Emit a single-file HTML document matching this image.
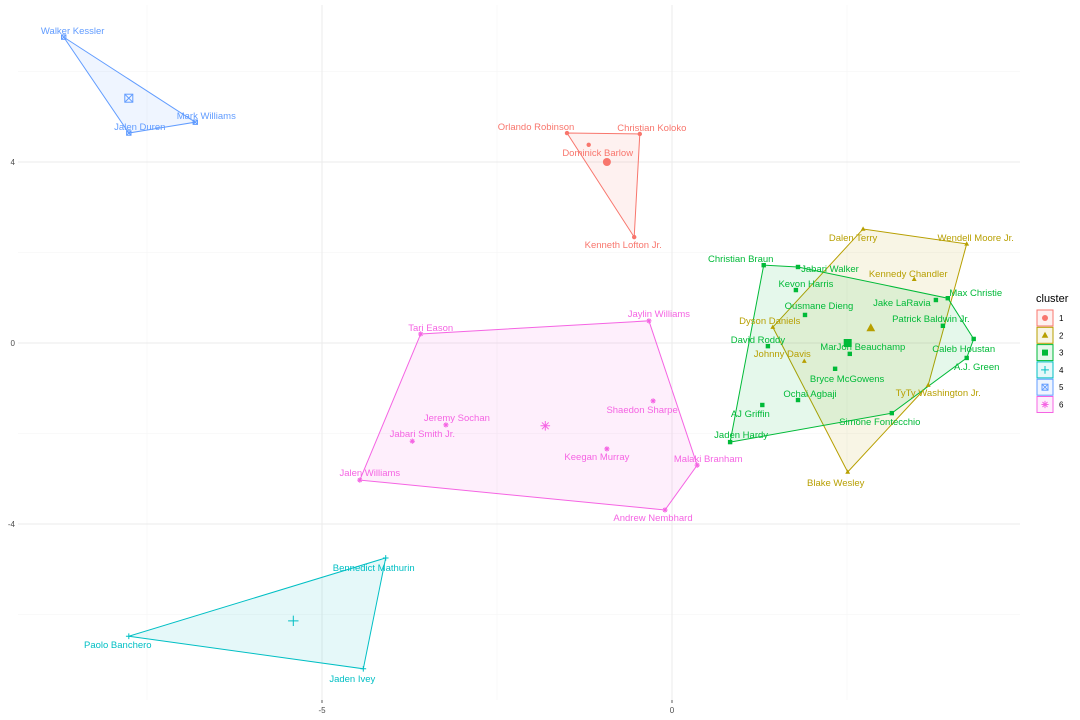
<!DOCTYPE html>
<html><head><meta charset="utf-8">
<style>
html,body{margin:0;padding:0;background:#fff;}
svg{display:block;font-family:"Liberation Sans",sans-serif;}
</style></head>
<body>
<svg id="chart" width="1080" height="720" viewBox="0 0 1080 720" xmlns="http://www.w3.org/2000/svg"></svg>
<script>
const clusterIds=[1,2,3,4,5,6];
const clusterColors=["#F8766D","#B79F00","#00BA38","#00BFC4","#619CFF","#F564E3"];
const names1=["Orlando Robinson","Christian Koloko","Dominick Barlow","Kenneth Lofton Jr."];
const xs1=[-1.50,-0.46,-1.19,-0.54];
const ys1=[4.64,4.62,4.38,2.34];
const names2=["Dalen Terry","Wendell Moore Jr.","Kennedy Chandler","Dyson Daniels","Johnny Davis","TyTy Washington Jr.","Blake Wesley"];
const xs2=[2.73,4.21,3.46,1.44,1.89,3.66,2.51];
const ys2=[2.52,2.19,1.41,0.35,-0.40,-0.93,-2.85];
const names3=["Christian Braun","Jabari Walker","Kevon Harris","Ousmane Dieng","Jake LaRavia","Max Christie","Patrick Baldwin Jr.","David Roddy","MarJon Beauchamp","Caleb Houstan","A.J. Green","Bryce McGowens","Ochai Agbaji","AJ Griffin","Simone Fontecchio","Jaden Hardy"];
const xs3=[1.31,1.80,1.77,1.90,3.77,3.94,3.87,1.37,2.54,4.31,4.21,2.33,1.80,1.29,3.14,0.83];
const ys3=[1.72,1.68,1.17,0.62,0.95,0.99,0.38,-0.07,-0.24,0.09,-0.33,-0.57,-1.26,-1.37,-1.55,-2.19];
const names4=["Bennedict Mathurin","Paolo Banchero","Jaden Ivey"];
const xs4=[-4.09,-7.76,-4.41];
const ys4=[-4.75,-6.48,-7.20];
const names5=["Walker Kessler","Mark Williams","Jalen Duren"];
const xs5=[-8.69,-6.81,-7.76];
const ys5=[6.76,4.88,4.64];
const names6=["Tari Eason","Jaylin Williams","Jeremy Sochan","Jabari Smith Jr.","Shaedon Sharpe","Keegan Murray","Malaki Branham","Jalen Williams","Andrew Nembhard"];
const xs6=[-3.59,-0.33,-3.23,-3.71,-0.27,-0.93,0.36,-4.46,-0.10];
const ys6=[0.20,0.49,-1.81,-2.17,-1.28,-2.34,-2.70,-3.03,-3.69];
const centerX=[-0.93,2.84,2.51,-5.41,-7.76,-1.81];
const centerY=[4.00,0.33,0.00,-6.14,5.41,-1.83];
const xTicks=[-5,0];
const yTicks=[4,0,-4];
const xMinor=[-7.5,-2.5,2.5];
const yMinor=[6,2,-2,-6];
const lab1=[[-31,-6],[12,-6],[9,8],[-11,8]];
const lab2=[[-10,9],[9,-6],[-6,-5],[-3,-6],[-22,-7],[10,8],[-12,11]];
const lab3=[[-23,-6],[32,2],[10,-6],[14,-9],[-34,3],[28,-5],[-12,-7],[-10,-6],[13,-7],[-10,10],[10,9],[12,10],[12,-6],[-12,9],[-12,9],[11,-7]];
const lab4=[[-12,10],[-11,9],[-11,10]];
const lab5=[[9,-6],[11,-6],[11,-6]];
const lab6=[[10,-6],[10,-7],[11,-7],[10,-7],[-11,9],[-10,8],[11,-6],[10,-7],[-12,8]];

const P={l:18,r:1020,t:5,b:700};
const X=v=>672+v*70;
const Y=v=>343-v*45.25;
const NS="http://www.w3.org/2000/svg";
const svg=document.getElementById('chart');
function mk(tag,attrs,parent){const e=document.createElementNS(NS,tag);for(const k in attrs)e.setAttribute(k,attrs[k]);(parent||svg).appendChild(e);return e;}

const grid=mk('g',{});


xMinor.forEach(v=>mk('line',{x1:X(v),x2:X(v),y1:P.t,y2:P.b,stroke:'#f3f3f3','stroke-width':0.6},grid));
yMinor.forEach(v=>mk('line',{x1:P.l,x2:P.r,y1:Y(v),y2:Y(v),stroke:'#f3f3f3','stroke-width':0.6},grid));
xTicks.forEach(v=>mk('line',{x1:X(v),x2:X(v),y1:P.t,y2:P.b,stroke:'#ebebeb','stroke-width':1},grid));
yTicks.forEach(v=>mk('line',{x1:P.l,x2:P.r,y1:Y(v),y2:Y(v),stroke:'#ebebeb','stroke-width':1},grid));

const axes=mk('g',{});


xTicks.forEach(v=>{mk('line',{x1:X(v),x2:X(v),y1:P.b,y2:P.b+3,stroke:'#333','stroke-width':0.8},axes);
 const t=mk('text',{x:X(v),y:P.b+13,'text-anchor':'middle','font-size':8,fill:'#4d4d4d'},axes);t.textContent=v;
 });
yTicks.forEach(v=>{const t=mk('text',{x:P.l-3,y:Y(v)+3,'text-anchor':'end','font-size':8,fill:'#4d4d4d'},axes);t.textContent=v;
 });

function hull(pts){pts=pts.slice().sort((a,b)=>a[0]-b[0]||a[1]-b[1]);
 const cr=(o,a,b)=>(a[0]-o[0])*(b[1]-o[1])-(a[1]-o[1])*(b[0]-o[0]);
 const lo=[],up=[];for(const p of pts){while(lo.length>=2&&cr(lo[lo.length-2],lo[lo.length-1],p)<=0)lo.pop();lo.push(p);}
 for(let i=pts.length-1;i>=0;i--){const p=pts[i];while(up.length>=2&&cr(up[up.length-2],up[up.length-1],p)<=0)up.pop();up.push(p);}
 up.pop();lo.pop();return lo.concat(up);}

function shape(g,k,cx,cy,s,col){
 if(k===0)mk('circle',{cx,cy,r:s,fill:col},g);
 else if(k===1)mk('polygon',{points:`${cx},${cy-s*1.2} ${cx-s*1.1},${cy+s*0.8} ${cx+s*1.1},${cy+s*0.8}`,fill:col},g);
 else if(k===2)mk('rect',{x:cx-s,y:cy-s,width:2*s,height:2*s,fill:col},g);
 else if(k===3){mk('path',{d:`M${cx-s*1.3},${cy}H${cx+s*1.3}M${cx},${cy-s*1.3}V${cy+s*1.3}`,stroke:col,'stroke-width':1,fill:'none'},g);}
 else if(k===4){mk('rect',{x:cx-s,y:cy-s,width:2*s,height:2*s,fill:'none',stroke:col,'stroke-width':1},g);
  mk('path',{d:`M${cx-s},${cy-s}L${cx+s},${cy+s}M${cx-s},${cy+s}L${cx+s},${cy-s}`,stroke:col,'stroke-width':1},g);}
 else {const r=s*1.2;mk('path',{d:`M${cx-r},${cy}H${cx+r}M${cx},${cy-r}V${cy+r}M${cx-r*.7},${cy-r*.7}L${cx+r*.7},${cy+r*.7}M${cx-r*.7},${cy+r*.7}L${cx+r*.7},${cy-r*.7}`,stroke:col,'stroke-width':1},g);}
}

const groups=[[names1,xs1,ys1,lab1],[names2,xs2,ys2,lab2],[names3,xs3,ys3,lab3],[names4,xs4,ys4,lab4],[names5,xs5,ys5,lab5],[names6,xs6,ys6,lab6]];
const hullLayer=mk('g',{});
const ptLayer=mk('g',{});
groups.forEach((gr,k)=>{
 const col=clusterColors[k];
 const pts=gr[1].map((v,i)=>[X(v),Y(gr[2][i])]);
 const h=hull(pts);
 const poly=mk('polygon',{points:h.map(p=>p.join(',')).join(' '),fill:col,'fill-opacity':0.1,stroke:col,'stroke-width':1},hullLayer);
 
 
});
groups.forEach((gr,k)=>{
 const col=clusterColors[k];
 const g=mk('g',{},ptLayer);
 
 
 gr[0].forEach((n,i)=>{
  const cx=X(gr[1][i]),cy=Y(gr[2][i]);
  shape(g,k,cx,cy,2.2,col);
  const t=mk('text',{x:cx+gr[3][i][0],y:cy+gr[3][i][1]+3,'text-anchor':'middle','font-size':9.5,fill:col},g);
  t.textContent=n;
  
  
 });
 const c=mk('g',{},g);
 
 
 shape(c,k,X(centerX[k]),Y(centerY[k]),4,col);
});

const leg=mk('g',{});


const lt=mk('text',{x:1036,y:302,'font-size':11,fill:'#000'},leg);lt.textContent='cluster';

clusterIds.forEach((id,k)=>{
 const y0=310+k*17.3,col=clusterColors[k];
 const e=mk('g',{},leg);
 
 
 mk('rect',{x:1037,y:y0,width:16,height:16,fill:col,'fill-opacity':0.1,stroke:col,'stroke-width':1},e);
 shape(e,k,1045,y0+8,3,col);
 const t=mk('text',{x:1059,y:y0+11,'font-size':8,fill:'#000'},e);t.textContent=id;
});
</script>
</body></html>
